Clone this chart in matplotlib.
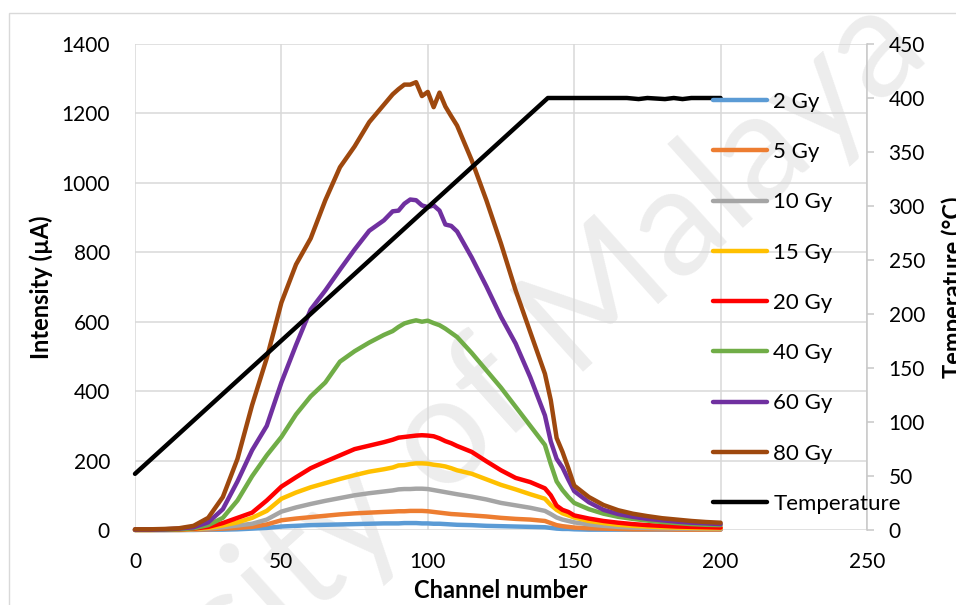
import matplotlib.pyplot as plt
from matplotlib.patches import Rectangle

plt.rcParams["font.family"] = ["Lato", "DejaVu Sans"]

# channel grid shared by all glow curves (denser around the peak and the 140-150 knee)
channel = [0, 5, 10, 15, 20, 25, 30, 35, 40, 45, 50, 55, 60, 65, 70, 75, 80, 85,
           88, 90, 92, 94, 96, 98, 100, 102, 104, 106, 108, 110, 115, 120, 125,
           130, 135, 140, 142, 144, 146, 148, 150, 155, 160, 165, 170, 175, 180,
           185, 190, 195, 200]

gy_2 = [0, 0, 0, 0, 0, 1, 1, 2, 4, 6, 10, 12, 14, 15, 16, 17, 18, 19,
        19, 19, 20, 20, 20, 19, 19, 18, 18, 17, 16, 15, 14, 12, 11,
        10, 9, 8, 6, 4, 3, 3, 2, 1, 1, 1, 1, 1, 1, 1, 1, 1, 1]
gy_5 = [0, 0, 0, 0, 1, 2, 4, 6, 9, 16, 28, 33, 37, 41, 45, 48, 50, 52,
        53, 54, 54, 55, 55, 55, 54, 52, 50, 48, 46, 45, 42, 39, 35,
        32, 30, 26, 20, 14, 11, 9, 7, 5, 4, 3, 2, 2, 2, 1, 1, 1, 1]
gy_10 = [0, 0, 0, 1, 2, 4, 8, 13, 18, 30, 53, 65, 75, 84, 92, 100, 106, 111,
         114, 117, 118, 118, 119, 119, 118, 115, 112, 109, 106, 103, 96, 88, 78,
         71, 64, 55, 46, 36, 30, 26, 22, 16, 12, 9, 7, 6, 5, 4, 4, 3, 3]
gy_15 = [0, 0, 1, 1, 3, 6, 13, 22, 35, 55, 90, 108, 123, 135, 147, 158, 168, 175,
         180, 186, 187, 190, 192, 192, 191, 188, 186, 183, 178, 172, 162, 146, 130,
         117, 103, 90, 72, 58, 48, 42, 36, 26, 20, 15, 12, 10, 8, 7, 6, 5, 5]
gy_20 = [1, 1, 1, 2, 4, 9, 20, 35, 50, 85, 125, 152, 178, 197, 215, 233, 243, 253,
         260, 266, 268, 270, 272, 273, 272, 270, 264, 256, 250, 242, 225, 198, 172,
         150, 138, 120, 100, 70, 58, 52, 42, 33, 26, 21, 17, 14, 12, 10, 9, 8, 7]
gy_40 = [1, 1, 1, 2, 5, 14, 35, 85, 155, 215, 268, 333, 385, 425, 485, 515, 540, 562,
         573, 585, 595, 600, 604, 600, 603, 596, 590, 580, 568, 556, 510, 460, 410,
         355, 300, 245, 190, 140, 115, 95, 78, 60, 47, 38, 32, 27, 23, 20, 17, 15, 14]
gy_60 = [1, 1, 2, 4, 8, 22, 60, 140, 230, 300, 425, 533, 635, 690, 750, 808, 862, 892,
         918, 920, 940, 952, 950, 935, 930, 935, 920, 880, 876, 860, 785, 702, 614,
         537, 440, 330, 255, 205, 180, 145, 112, 80, 58, 46, 38, 32, 28, 24, 21, 19, 17]
gy_80 = [2, 2, 3, 5, 12, 35, 95, 205, 360, 495, 655, 765, 840, 950, 1045, 1105, 1175, 1225,
         1255, 1270, 1283, 1283, 1290, 1250, 1262, 1218, 1260, 1220, 1192, 1165, 1065, 950, 825,
         690, 570, 450, 374, 265, 225, 178, 128, 95, 72, 57, 47, 40, 34, 30, 26, 23, 21]

# heater ramp on the secondary axis (deg C)
temp_channel = [0, 141, 168, 172, 175, 181, 184, 187, 190, 200]
temperature = [52, 400, 400, 399, 400, 399, 400, 399, 400, 400]

series = [
    ("2 Gy", gy_2, "#5B9BD5"),
    ("5 Gy", gy_5, "#ED7D31"),
    ("10 Gy", gy_10, "#A5A5A5"),
    ("15 Gy", gy_15, "#FFC000"),
    ("20 Gy", gy_20, "#FF0000"),
    ("40 Gy", gy_40, "#70AD47"),
    ("60 Gy", gy_60, "#7030A0"),
    ("80 Gy", gy_80, "#9E480E"),
]

fig = plt.figure(figsize=(9.56, 6.05), dpi=100)
fig.patch.set_facecolor("white")

# chart frame
fig.patches.append(Rectangle((9 / 956, -0.1), 1.2, 1 - 13 / 605 + 0.1,
                             transform=fig.transFigure, fill=False,
                             edgecolor="#d9d9d9", lw=1.0, zorder=-2))

ax = fig.add_axes([135 / 956, 1 - 530 / 605, 732 / 956, 486 / 605])
ax.patch.set_alpha(0)
ax2 = ax.twinx()

handles = []
for label, values, color in series:
    (ln,) = ax.plot(channel, values, color=color, lw=3.2, label=label,
                    solid_capstyle="round", solid_joinstyle="round", clip_on=False)
    handles.append(ln)
(tl,) = ax2.plot(temp_channel, temperature, color="black", lw=3.2,
                 label="Temperature", solid_capstyle="round",
                 solid_joinstyle="round", clip_on=False)
handles.append(tl)

ax.set_xlim(0, 250)
ax.set_ylim(0, 1400)
ax2.set_ylim(0, 450)
ax.set_xticks(range(0, 251, 50))
ax.set_yticks(range(0, 1401, 200))
ax2.set_yticks(range(0, 451, 50))

ax.grid(True, color="#d9d9d9", lw=1.1)
ax.set_axisbelow(True)
for s in ax.spines.values():
    s.set_visible(False)
for name, s in ax2.spines.items():
    s.set_visible(name == "right")
ax2.spines["right"].set_color("#c8c8c8")
ax2.spines["right"].set_linewidth(1.1)

ax.tick_params(axis="both", length=0, labelsize=15, colors="black")
ax.tick_params(axis="y", pad=18)
ax.tick_params(axis="x", pad=16)
ax2.tick_params(axis="y", length=5, width=1.1, color="#c8c8c8", direction="out",
                labelsize=15, pad=10.5)

ax.set_xlabel("Channel number", fontsize=17, fontweight="bold")
ax.xaxis.set_label_coords(0.5, -0.1)
ax.set_ylabel("Intensity (µA)", fontsize=17, fontweight="bold")
ax.yaxis.set_label_coords(-0.112, 0.5)
ax2.set_ylabel("Temperature (°C)", fontsize=17, fontweight="bold")
ax2.yaxis.set_label_coords(1.101, 0.5)

leg = ax2.legend(handles=handles, loc="upper left",
                 bbox_to_anchor=((713 - 135) / 732, (530 - 92) / 486),
                 frameon=False, fontsize=16, handlelength=2.45, handletextpad=0.27,
                 labelspacing=1.36, borderpad=0, borderaxespad=0)

fig.text(0.406, 0.192, "University of Malaya", rotation=42, fontsize=110,
         color="black", alpha=0.075, ha="center", va="center", zorder=-1)

fig.savefig("out.png", dpi=100)
